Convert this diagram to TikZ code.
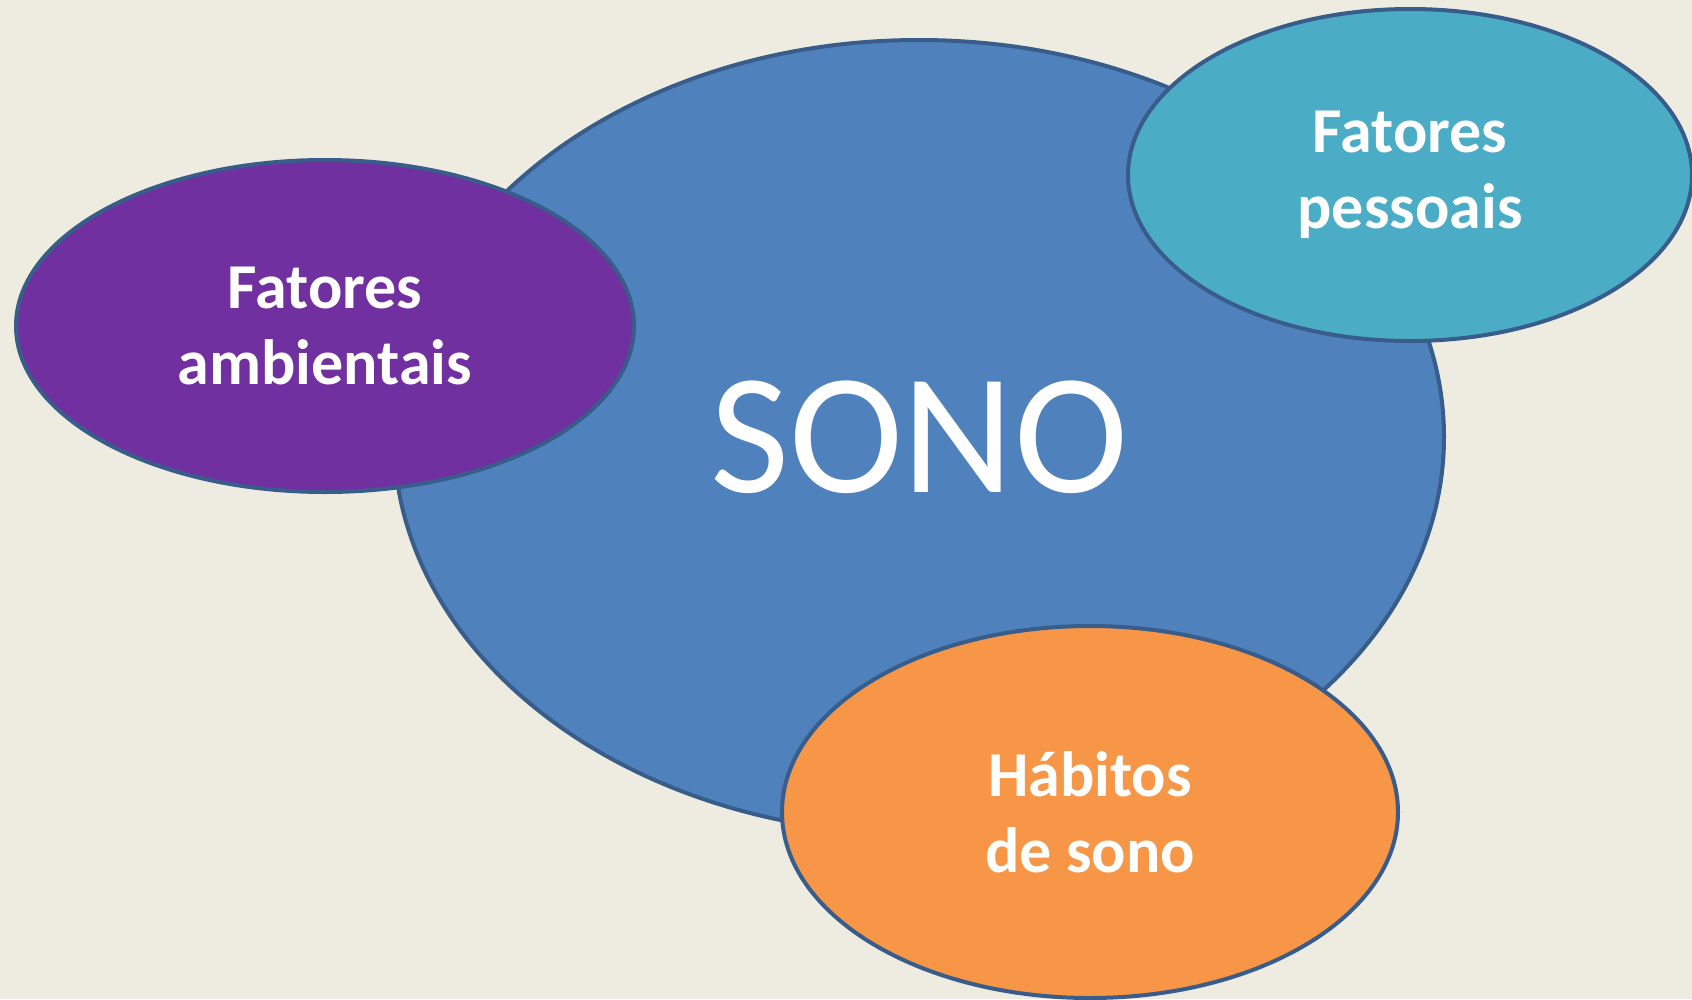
\documentclass[tikz,border=0pt]{standalone}
\usepackage{fontspec}
\setmainfont{Carlito}
\usetikzlibrary{shapes.geometric}
\definecolor{sonoBack}{HTML}{EEECE1}
\definecolor{sonoLine}{HTML}{385D8A}
\definecolor{sonoMain}{HTML}{4F81BD}
\definecolor{sonoAmbient}{HTML}{7030A0}
\definecolor{sonoPersonal}{HTML}{4BACC6}
\definecolor{sonoHabit}{HTML}{F79646}
\tikzset{
    bubble/.style={ellipse, draw=sonoLine, line width=4pt, inner sep=0pt, text=white, align=center},
    factor/.style={bubble, font=\fontsize{64}{76}\selectfont\bfseries}
}

\begin{document}
\begin{tikzpicture}[x=1pt, y=-1pt]
            \useasboundingbox[fill=sonoBack] (0,0) rectangle (1692,999);
            \node[bubble, fill=sonoMain, minimum width=1050pt, minimum height=794pt,
                font=\fontsize{172}{200}\selectfont] (sono) at (919,437) {SONO};
            \node[factor, fill=sonoAmbient, minimum width=618pt, minimum height=332pt] (ambientais) at (325,326) {Fatores\\ambientais};
            \node[factor, fill=sonoPersonal, minimum width=564pt, minimum height=332pt] (pessoais) at (1410,175) {Fatores\\pessoais};
            \node[factor, fill=sonoHabit, minimum width=616pt, minimum height=372pt] (habitos) at (1090,812) {Hábitos\\de sono};
        \end{tikzpicture}
\end{document}
